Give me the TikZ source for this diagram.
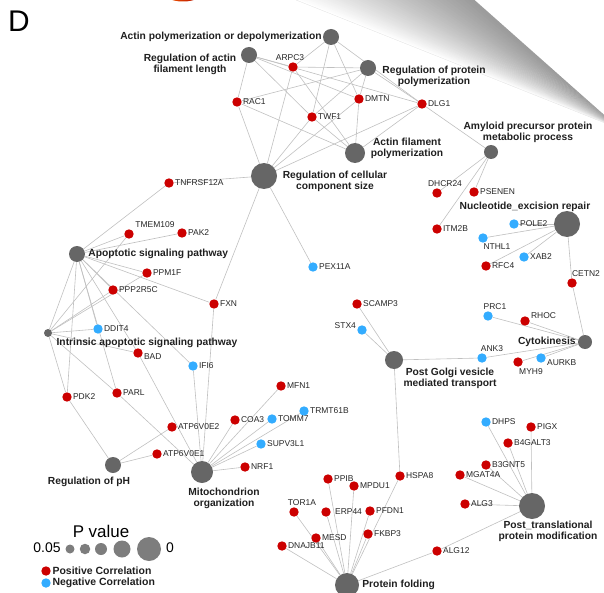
\documentclass[tikz,border=0pt]{standalone}
\usepackage{fontspec}
\setmainfont{Liberation Sans}
\usetikzlibrary{positioning, backgrounds}
\definecolor{posred}{RGB}{204, 0, 0}
\definecolor{negblue}{RGB}{51, 172, 255}
\definecolor{termgray}{RGB}{102, 102, 102}
\definecolor{keygray}{RGB}{125, 125, 125}
\definecolor{edgegray}{RGB}{192, 192, 192}
\newcommand{\genefont}{\fontsize{8.5}{10}\selectfont}
\newcommand{\termfont}{\fontsize{10.3}{11}\selectfont\bfseries}

\begin{document}
\begin{tikzpicture}[
        x=1bp, y=-1bp,
        term/.style={circle, fill=termgray, inner sep=0pt, minimum size=#1},
        gene/.style={circle, inner sep=0pt, minimum size=9.4bp},
        posgene/.style={gene, fill=posred},
        neggene/.style={gene, fill=negblue},
        termtext/.style={font=\termfont, align=center, inner sep=0pt, text=black!88},
        link/.style={draw=edgegray, line width=0.6bp},
        every label/.style={font=\genefont, inner sep=1bp, text=black!85},
    ]
        \useasboundingbox (0,0) rectangle (604,593);

        % panel letter
        \node[font=\fontsize{30}{30}\selectfont, text=black] (letter) at (19,21) {D};

        % GO terms
        \node[term=16bp] (actpoly) at (331,37) {};
        \node[term=16bp] (regactlen) at (249,55) {};
        \node[term=16bp] (regprotpoly) at (368,68) {};
        \node[term=20bp] (actfil) at (355,153) {};
        \node[term=26bp] (regcell) at (264,176) {};
        \node[term=14bp] (amyloid) at (491,152) {};
        \node[term=26bp] (ner) at (567,224) {};
        \node[term=14bp] (cytok) at (585,342) {};
        \node[term=18bp] (golgi) at (394,360) {};
        \node[term=26bp] (ptm) at (532,506) {};
        \node[term=24bp] (fold) at (347,585) {};
        \node[term=22bp] (mito) at (202,472) {};
        \node[term=16bp] (ph) at (113,465) {};
        \node[term=16bp] (apop) at (77,254) {};
        \node[term=8bp] (intrinsic) at (48,333) {};

        \node[termtext, left=1bp of actpoly] (actpoly-txt) {Actin polymerization or depolymerization};
        \node[termtext] (regactlen-txt) at (190,64) {Regulation of actin\\filament length};
        \node[termtext] (regprotpoly-txt) at (434,76) {Regulation of protein\\polymerization};
        \node[termtext] (actfil-txt) at (407,148) {Actin filament\\polymerization};
        \node[termtext] (regcell-txt) at (335,181) {Regulation of cellular\\component size};
        \node[termtext] (amyloid-txt) at (528,132) {Amyloid precursor protein\\metabolic process};
        \node[termtext] (ner-txt) at (525,207) {Nucleotide\_excision repair};
        \node[termtext, left=2bp of cytok] (cytok-txt) {Cytokinesis};
        \node[termtext] (golgi-txt) at (450,378) {Post Golgi vesicle\\mediated transport};
        \node[termtext] (ptm-txt) at (548,531) {Post\_translational\\protein modification};
        \node[termtext, right=3bp of fold] (fold-txt) {Protein folding};
        \node[termtext] (mito-txt) at (224,498) {Mitochondrion\\organization};
        \node[termtext] (ph-txt) at (89,482) {Regulation of pH};
        \node[termtext, right=3bp of apop] (apop-txt) {Apoptotic signaling pathway};
        \node[termtext] (intrinsic-txt) at (147,343) {Intrinsic apoptotic signaling pathway};

        % genes: actin cluster
        \node[posgene, label={[xshift=-3bp]above:ARPC3}] (arpc3) at (293,67) {};
        \node[posgene, label=right:RAC1] (rac1) at (237,102) {};
        \node[posgene, label=right:TWF1] (twf1) at (312,117) {};
        \node[posgene, label=right:DMTN] (dmtn) at (359,99) {};
        \node[posgene, label=right:DLG1] (dlg1) at (422,104) {};
        \node[posgene, label=right:TNFRSF12A] (tnfrsf12a) at (169,183) {};

        % genes: amyloid, excision repair, cytokinesis
        \node[posgene, label={[xshift=8bp]above:DHCR24}] (dhcr24) at (437,193) {};
        \node[posgene, label=right:PSENEN] (psenen) at (474,192) {};
        \node[posgene, label=right:ITM2B] (itm2b) at (437,229) {};
        \node[neggene, label=right:POLE2] (pole2) at (514,224) {};
        \node[neggene, label={[xshift=14bp]below:NTHL1}] (nthl1) at (483,238) {};
        \node[neggene, label=right:XAB2] (xab2) at (524,257) {};
        \node[posgene, label=right:RFC4] (rfc4) at (486,266) {};
        \node[posgene, label={[xshift=14bp]above:CETN2}] (cetn2) at (572,283) {};
        \node[neggene, label={[xshift=7bp]above:PRC1}] (prc1) at (488,316) {};
        \node[posgene, label={[yshift=5bp]right:RHOC}] (rhoc) at (525,321) {};
        \node[neggene, label={[xshift=10bp]above:ANK3}] (ank3) at (482,358) {};
        \node[posgene, label={[xshift=13bp]below:MYH9}] (myh9) at (518,362) {};
        \node[neggene, label={[yshift=-5bp]right:AURKB}] (aurkb) at (541,358) {};

        % genes: golgi transport
        \node[neggene, label=right:PEX11A] (pex11a) at (313,267) {};
        \node[posgene, label=right:SCAMP3] (scamp3) at (357,304) {};
        \node[neggene, label={[yshift=4bp]left:STX4}] (stx4) at (362,330) {};

        % genes: apoptosis
        \node[posgene, label={[xshift=26bp]above:TMEM109}] (tmem109) at (129,234) {};
        \node[posgene, label=right:PAK2] (pak2) at (182,233) {};
        \node[posgene, label=right:PPM1F] (ppm1f) at (147,273) {};
        \node[posgene, label=right:PPP2R5C] (ppp2r5c) at (113,290) {};
        \node[posgene, label=right:FXN] (fxn) at (214,304) {};
        \node[neggene, label=right:DDIT4] (ddit4) at (98,329) {};
        \node[posgene, label={[yshift=-4bp]right:BAD}] (bad) at (138,353) {};
        \node[neggene, label=right:IFI6] (ifi6) at (193,366) {};
        \node[posgene, label=right:PDK2] (pdk2) at (67,397) {};
        \node[posgene, label=right:PARL] (parl) at (117,393) {};

        % genes: mitochondrion, pH
        \node[posgene, label=right:MFN1] (mfn1) at (281,386) {};
        \node[posgene, label=right:COA3] (coa3) at (235,420) {};
        \node[neggene, label=right:TOMM7] (tomm7) at (272,419) {};
        \node[neggene, label=right:TRMT61B] (trmt61b) at (304,411) {};
        \node[neggene, label=right:SUPV3L1] (supv3l1) at (261,444) {};
        \node[posgene, label=right:NRF1] (nrf1) at (245,467) {};
        \node[posgene, label=right:ATP6V0E2] (atp6v0e2) at (172,427) {};
        \node[posgene, label=right:ATP6V0E1] (atp6v0e1) at (157,454) {};

        % genes: folding, modification
        \node[posgene, label=right:PPIB] (ppib) at (328,479) {};
        \node[posgene, label=right:MPDU1] (mpdu1) at (354,486) {};
        \node[posgene, label=right:HSPA8] (hspa8) at (400,476) {};
        \node[posgene, label={[xshift=8bp]above:TOR1A}] (tor1a) at (294,512) {};
        \node[posgene, label={[xshift=3bp]right:ERP44}] (erp44) at (326,512) {};
        \node[posgene, label=right:PFDN1] (pfdn1) at (370,511) {};
        \node[posgene, label=right:MESD] (mesd) at (316,538) {};
        \node[posgene, label=right:FKBP3] (fkbp3) at (368,534) {};
        \node[posgene, label=right:DNAJB11] (dnajb11) at (282,546) {};
        \node[posgene, label=right:ALG12] (alg12) at (437,551) {};
        \node[neggene, label=right:DHPS] (dhps) at (486,422) {};
        \node[posgene, label=right:PIGX] (pigx) at (531,427) {};
        \node[posgene, label=right:B4GALT3] (b4galt3) at (508,443) {};
        \node[posgene, label=right:B3GNT5] (b3gnt5) at (486,465) {};
        \node[posgene, label=right:MGAT4A] (mgat4a) at (460,475) {};
        \node[posgene, label=right:ALG3] (alg3) at (465,504) {};

        % legend
        \node[font=\fontsize{17}{17}\selectfont] (pval) at (101,531) {P value};
        \node[font=\fontsize{14}{14}\selectfont] (pmin) at (47,548) {0.05};
        \node[term=9bp, fill=keygray] (key1) at (70,549) {};
        \node[term=10.5bp, fill=keygray] (key2) at (85,549) {};
        \node[term=12bp, fill=keygray] (key3) at (101,549) {};
        \node[term=17bp, fill=keygray] (key4) at (122,549) {};
        \node[term=24bp, fill=keygray] (key5) at (149,549) {};
        \node[font=\fontsize{14}{14}\selectfont] (pmax) at (170,548) {0};
        \node[posgene] (keypos) at (46,571) {};
        \node[termtext, font=\fontsize{10.5}{11}\selectfont\bfseries, right=1.5bp of keypos] (keypos-txt) {Positive Correlation};
        \node[neggene] (keyneg) at (46,583) {};
        \node[termtext, font=\fontsize{10.5}{11}\selectfont\bfseries, right=1.5bp of keyneg] (keyneg-txt) {Negative Correlation};

        \begin{scope}[on background layer]
            % zoom wedge and clipped blob from the panel above
            \clip (0,0) rectangle (604,593);
            \foreach \i in {0,...,39}
                \fill[black!\i] ({296+4.43*\i},0) -- ({296+4.43*(\i+1.3)},0) -- (620,129) -- cycle;
            \draw[black!12, line width=0.3bp] (296,0) -- (620,129);
            \shade[left color=orange!80!red, right color=red!65!black] (183,-10) ellipse [x radius=22bp, y radius=11.5bp];

            % gene-term links
            \foreach \g in {arpc3, twf1, dmtn, dlg1}
                \draw[link] (actpoly) -- (\g);
            \foreach \g in {arpc3, rac1, twf1, dmtn, dlg1} {
                \draw[link] (regactlen) -- (\g);
                \draw[link] (regprotpoly) -- (\g);
                \draw[link] (actfil) -- (\g);
                \draw[link] (regcell) -- (\g);
            }
            \foreach \g in {tnfrsf12a, fxn, pex11a}
                \draw[link] (regcell) -- (\g);
            \foreach \g in {dlg1, dhcr24, psenen, itm2b}
                \draw[link] (amyloid) -- (\g);
            \foreach \g in {pole2, nthl1, xab2, rfc4, cetn2}
                \draw[link] (ner) -- (\g);
            \foreach \g in {cetn2, prc1, rhoc, ank3, myh9, aurkb}
                \draw[link] (cytok) -- (\g);
            \foreach \g in {scamp3, stx4, ank3, hspa8}
                \draw[link] (golgi) -- (\g);
            \foreach \g in {tnfrsf12a, tmem109, pak2, ppm1f, ppp2r5c, fxn, ddit4, bad, ifi6, parl, pdk2, intrinsic}
                \draw[link] (apop) -- (\g);
            \foreach \g in {tmem109, ppm1f, ppp2r5c, ddit4, bad, parl, pdk2}
                \draw[link] (intrinsic) -- (\g);
            \foreach \g in {bad, ifi6, fxn, parl, mfn1, coa3, tomm7, trmt61b, supv3l1, nrf1}
                \draw[link] (mito) -- (\g);
            \foreach \g in {pdk2, atp6v0e2, atp6v0e1}
                \draw[link] (ph) -- (\g);
            \foreach \g in {ppib, mpdu1, hspa8, tor1a, erp44, pfdn1, mesd, fkbp3, dnajb11, alg12}
                \draw[link] (fold) -- (\g);
            \foreach \g in {dhps, pigx, b4galt3, b3gnt5, mgat4a, alg3, alg12}
                \draw[link] (ptm) -- (\g);
        \end{scope}

    \end{tikzpicture}
\end{document}
